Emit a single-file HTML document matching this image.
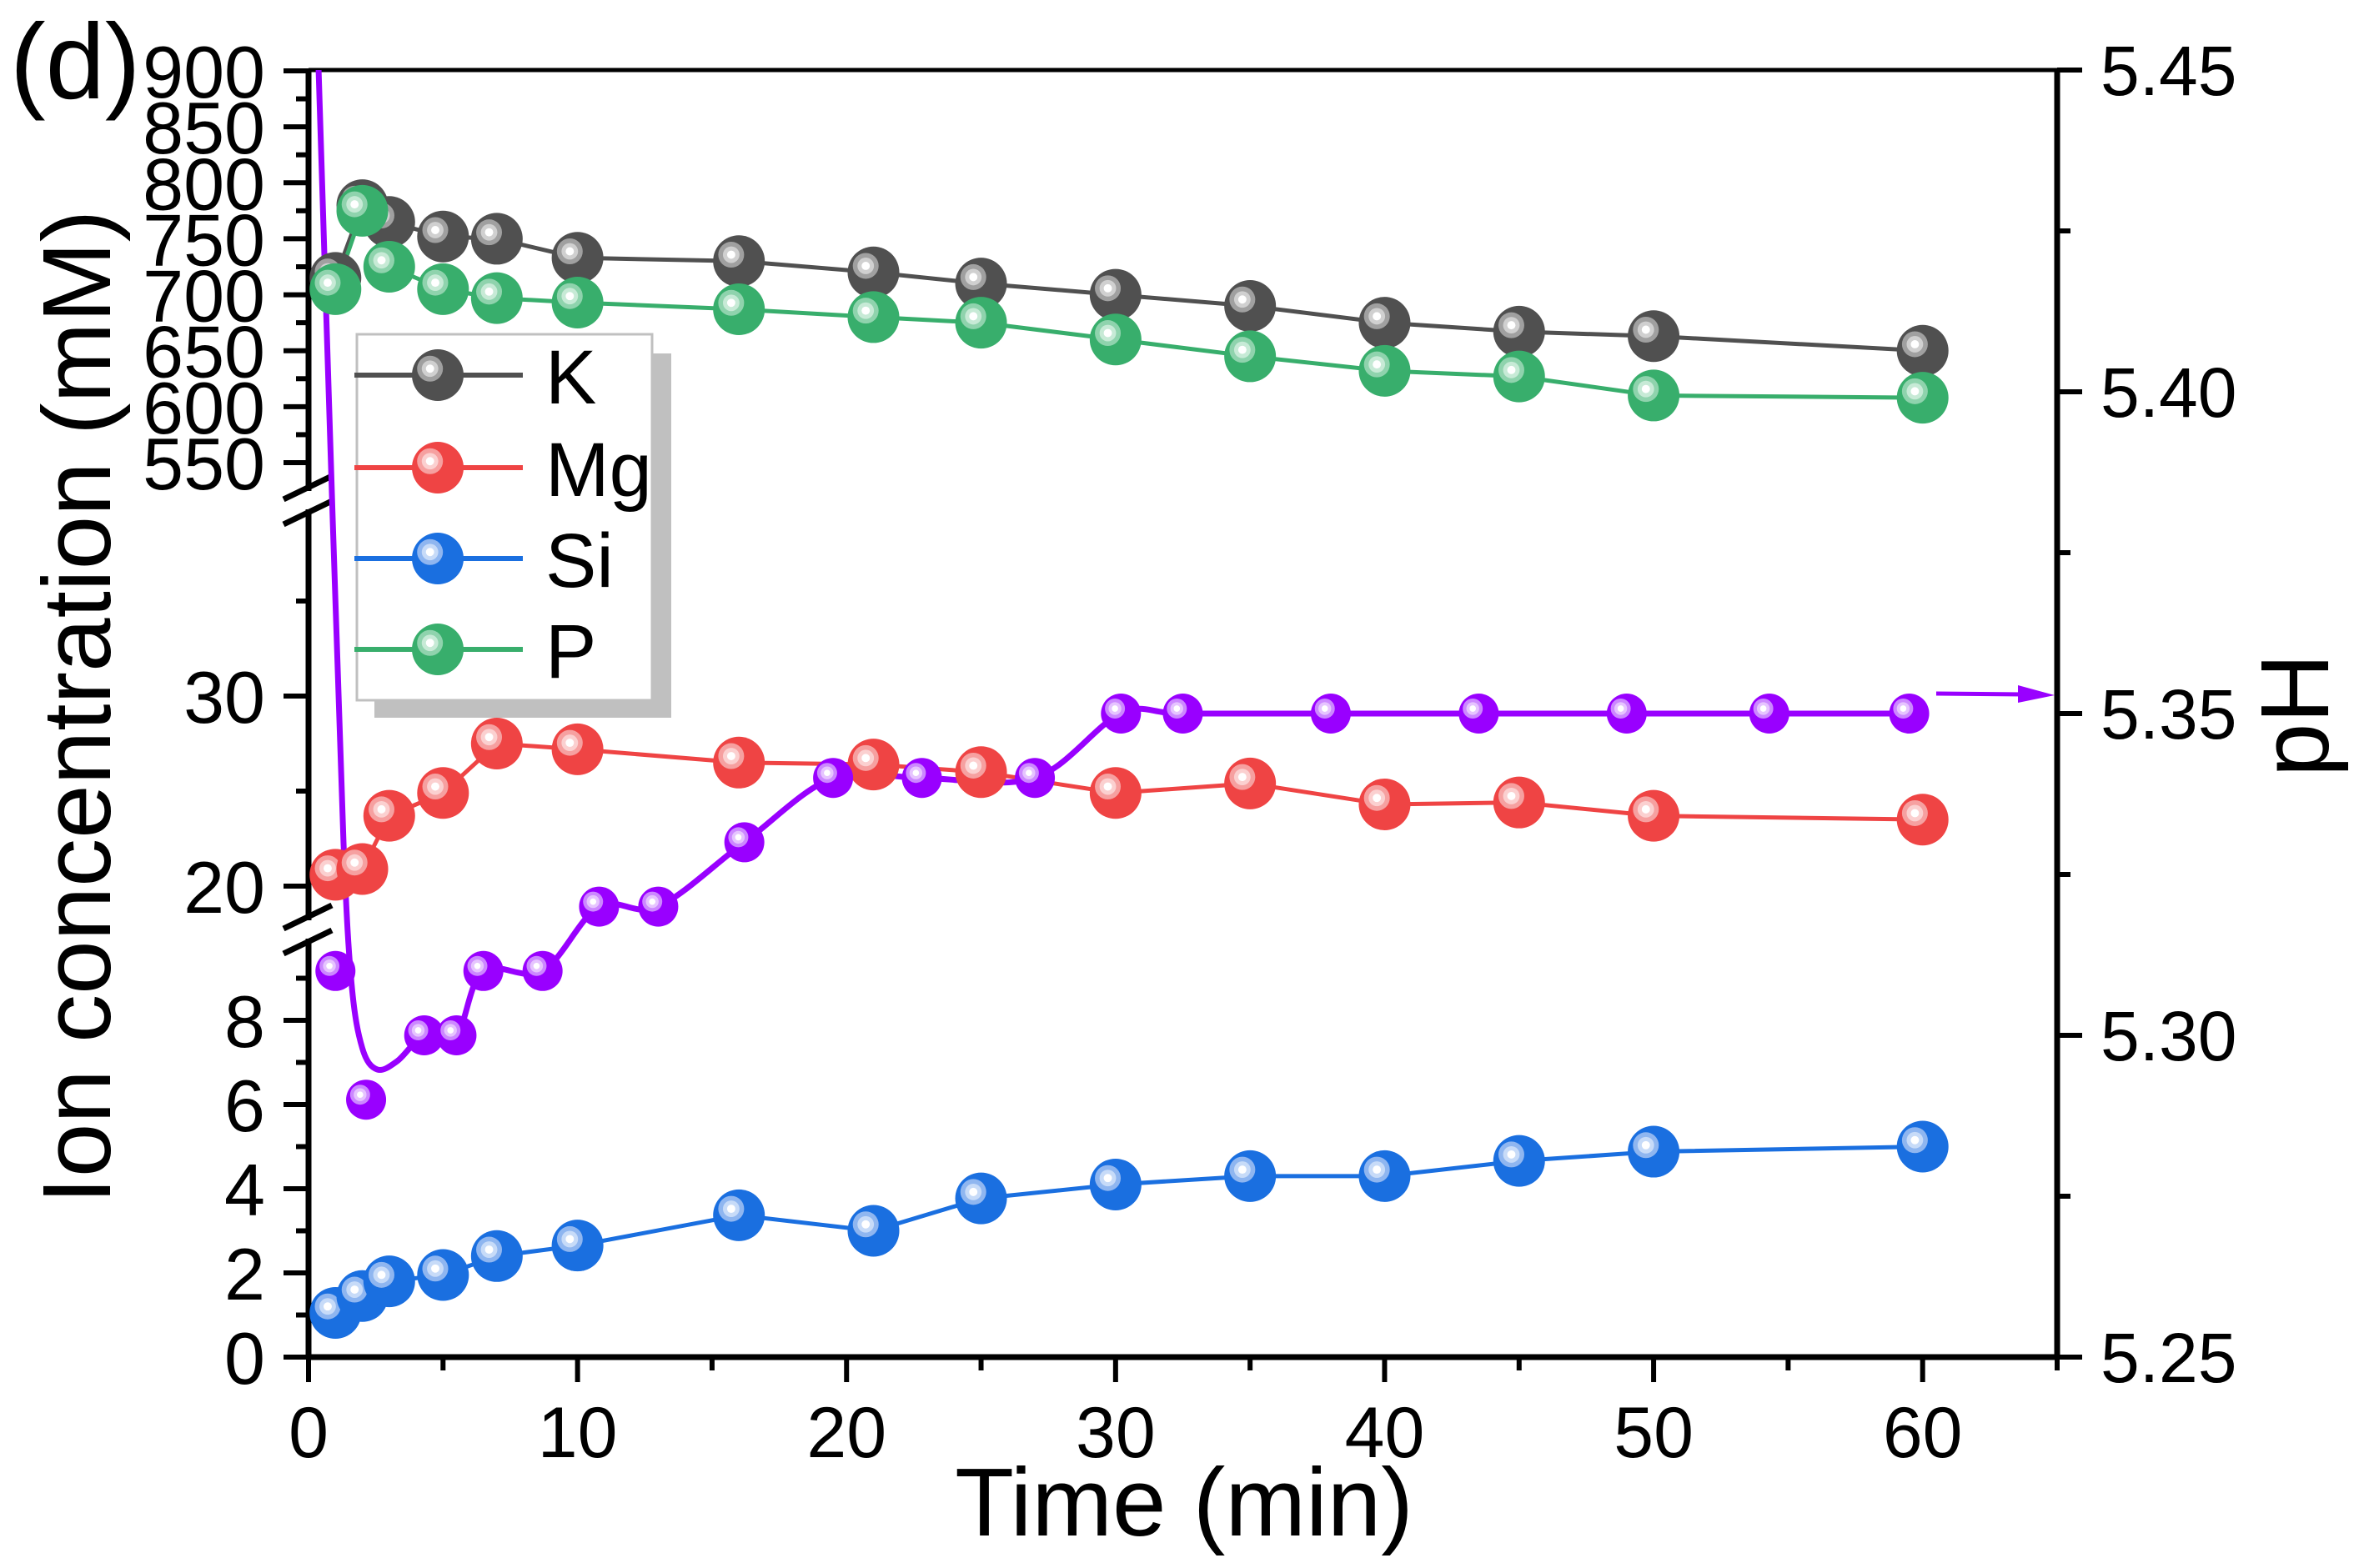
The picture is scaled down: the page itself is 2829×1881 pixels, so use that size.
<!DOCTYPE html>
<html><head><meta charset="utf-8"><style>
html,body{margin:0;padding:0;background:#fff;}
svg{display:block;font-family:"Liberation Sans",Arial,sans-serif;}
</style></head><body>
<svg id="chart" width="2829" height="1881" viewBox="0 0 2829 1881" xmlns="http://www.w3.org/2000/svg">
<defs>
<clipPath id="plotclip"><rect x="370" y="84" width="2097" height="1544"/></clipPath>
</defs>
<g id="axes"></g>
<g id="series" clip-path="url(#plotclip)"></g>
<g id="legend"></g>
<text x="12" y="118" font-size="128">(d)</text>
<text x="1420" y="1842" font-size="116" text-anchor="middle">Time (min)</text>
<text transform="translate(132,848) rotate(-90)" font-size="116" text-anchor="middle">Ion concentration (mM)</text>
<text transform="translate(2792,858) rotate(-90)" font-size="116" text-anchor="middle">pH</text>
</svg>
<script>
const times = [1,2,3,5,7,10,16,21,25,30,35,40,45,50,60];
const kVals = [715,780,765,752,750,733,730,720,710,700,690,675,667,663,650];
const pVals = [705,775,725,705,697,693,687,680,675,660,645,632,627,610,608];
const mgVals = [20.6,20.9,23.7,24.9,27.5,27.2,26.5,26.4,26.0,24.9,25.4,24.3,24.4,23.7,23.5];
const siVals = [1.05,1.45,1.8,1.95,2.4,2.65,3.37,3.0,3.77,4.1,4.3,4.3,4.66,4.88,5.0];
const phTimes = [1,2.14,4.3,5.5,6.5,8.7,10.8,13,16.2,19.5,22.8,27,30.2,32.5,38,43.5,49,54.3,59.5];
const phVals = [5.31,5.29,5.30,5.30,5.31,5.31,5.32,5.32,5.33,5.34,5.34,5.34,5.35,5.35,5.35,5.35,5.35,5.35,5.35];
const phFitTimes = [0.3,0.9,1.3,1.6,2.0,2.55,3.3,4.3,5.5,6.5,8.7,10.8,13,16.2,19.5,22.8,27,30.2,32.5,38,43.5,49,54.3,59.5];
const phFitVals = [5.46,5.38,5.33,5.308,5.298,5.2947,5.296,5.30,5.30,5.31,5.31,5.32,5.32,5.33,5.34,5.34,5.34,5.35,5.35,5.35,5.35,5.35,5.35,5.35];
const xTicks = [0,10,20,30,40,50,60];
const upperTicks = [550,600,650,700,750,800,850,900];
const midTicks = [20,30];
const lowerTicks = [0,2,4,6,8];
const phTicks = [5.25,5.30,5.35,5.40,5.45];

const NS="http://www.w3.org/2000/svg";
const L=370,R=2467,T=84,B=1628;
const X=t=>L+(t-0)*(R-L)/65;
const yUp=v=>85+(900-v)*(470/350);
const yMid=v=>835-(v-30)*22.8;
const yLow=v=>1628-v*50.5;
const yPH=v=>B-(v-5.25)*(B-T)/0.2;
function mk(tag,attrs,parent){const e=document.createElementNS(NS,tag);for(const k in attrs)e.setAttribute(k,attrs[k]);parent.appendChild(e);return e;}
const axes=document.getElementById('axes'),ser=document.getElementById('series'),leg=document.getElementById('legend');
const colors={K:'#505050',Mg:'#ef4444',Si:'#1a6fe0',P:'#38ae6c',pH:'#9900ff'};
const lights={K:'#a0a0a0',Mg:'#f6a0a0',Si:'#8fb6f0',P:'#8fd3ad',pH:'#cc88ff'};
const lights2={K:'#d0d0d0',Mg:'#fbd0d0',Si:'#c7dbf8',P:'#c7ead6',pH:'#e6c4ff'};
function ball(cx,cy,r,key,parent,name){
  const g=mk('g',{},parent);
  
  
  mk('ellipse',{cx:cx,cy:cy,rx:r,ry:r,fill:colors[key]},g);
  const hx=cx-r*0.3,hy=cy-r*0.25;
  mk('circle',{cx:hx,cy:hy,r:r*0.5,fill:lights[key]},g);
  mk('circle',{cx:hx,cy:hy,r:r*0.32,fill:lights2[key]},g);
  mk('circle',{cx:hx,cy:hy,r:r*0.16,fill:'#fff'},g);
}
let e;
e=mk('line',{x1:L,y1:T,x2:R,y2:T,stroke:'#000','stroke-width':5},axes);

e=mk('line',{x1:L,y1:B,x2:R,y2:B,stroke:'#000','stroke-width':7},axes);

e=mk('line',{x1:R,y1:T,x2:R,y2:B+3,stroke:'#000','stroke-width':7},axes);

[[T,598],[602,1114],[1118,B+3]].forEach(s=>{
  const l=mk('line',{x1:L,y1:s[0],x2:L,y2:s[1],stroke:'#000','stroke-width':7},axes);
  
});
[585,1100].forEach(y0=>{
  mk('rect',{x:355,y:y0+4,width:30,height:22,fill:'#fff'},axes);
  [0,30].forEach(d=>{
    const l=mk('line',{x1:340,y1:y0+d+14,x2:398,y2:y0+d-14,stroke:'#000','stroke-width':7},axes);
    
  });
});
function tick(x1,y1,x2,y2){mk('line',{x1:x1,y1:y1,x2:x2,y2:y2,stroke:'#000','stroke-width':6},axes);}
function label(x,y,txt,anchor,fs,name){const t=mk('text',{x:x,y:y,'text-anchor':anchor,'font-size':fs},axes);t.textContent=txt;}
xTicks.forEach(t=>{tick(X(t),B,X(t),B+30);label(X(t),B+120,String(t),'middle',86,'x-tick-label');});
for(let t=5;t<=65;t+=10)tick(X(t),B,X(t),B+16);
upperTicks.forEach(v=>{tick(L-30,yUp(v),L,yUp(v));label(318,yUp(v)+32,String(v),'end',88,'y-tick-label');});
for(let v=575;v<900;v+=50)tick(L-15,yUp(v),L,yUp(v));
midTicks.forEach(v=>{tick(L-30,yMid(v),L,yMid(v));label(318,yMid(v)+32,String(v),'end',88,'y-tick-label');});
[25,35].forEach(v=>tick(L-15,yMid(v),L,yMid(v)));
lowerTicks.forEach(v=>{tick(L-30,yLow(v),L,yLow(v));label(318,yLow(v)+32,String(v),'end',88,'y-tick-label');});
[1,3,5,7,9].forEach(v=>tick(L-15,yLow(v),L,yLow(v)));
phTicks.forEach(v=>{tick(R,yPH(v),R+30,yPH(v));label(R+52,yPH(v)+30,v.toFixed(2),'start',84,'y2-tick-label');});
for(let v=5.275;v<5.45;v+=0.05)tick(R,yPH(v),R+16,yPH(v));
function poly(xs,ys,yf,key,name){
  const pts=xs.map((t,i)=>X(t)+','+yf(ys[i])).join(' ');
  const p=mk('polyline',{points:pts,fill:'none',stroke:colors[key],'stroke-width':5,'stroke-linejoin':'round'},ser);
  
}
poly(times,kVals,yUp,'K','k-line');
poly(times,pVals,yUp,'P','p-line');
poly(times,mgVals,yMid,'Mg','mg-line');
poly(times,siVals,yLow,'Si','si-line');
(function(){
  const P=phFitTimes.map((t,i)=>[X(t),yPH(phFitVals[i])]);
  let d='M'+P[0][0]+','+P[0][1];
  for(let i=0;i<P.length-1;i++){
    const p0=P[Math.max(i-1,0)],p1=P[i],p2=P[i+1],p3=P[Math.min(i+2,P.length-1)];
    const c1=[p1[0]+(p2[0]-p0[0])/6,p1[1]+(p2[1]-p0[1])/6];
    const c2=[p2[0]-(p3[0]-p1[0])/6,p2[1]-(p3[1]-p1[1])/6];
    d+=' C'+c1[0]+','+c1[1]+' '+c2[0]+','+c2[1]+' '+p2[0]+','+p2[1];
  }
  const p=mk('path',{d:d,fill:'none',stroke:colors.pH,'stroke-width':7,'stroke-linejoin':'round'},ser);
  
})();
times.forEach((t,i)=>ball(X(t),yUp(kVals[i]),31,'K',ser,'k-point'));
times.forEach((t,i)=>ball(X(t),yUp(pVals[i]),31,'P',ser,'p-point'));
times.forEach((t,i)=>ball(X(t),yMid(mgVals[i]),31,'Mg',ser,'mg-point'));
times.forEach((t,i)=>ball(X(t),yLow(siVals[i]),31,'Si',ser,'si-point'));
phTimes.forEach((t,i)=>ball(X(t),yPH(phVals[i]),24,'pH',ser,'ph-point'));
e=mk('g',{},axes);

mk('line',{x1:2322,y1:832,x2:2430,y2:833,stroke:colors.pH,'stroke-width':5},e);
mk('path',{d:'M2420,822 L2464,834 L2420,843 Z',fill:colors.pH},e);
mk('rect',{x:449,y:424,width:356,height:437,fill:'#c0c0c0'},leg);
const box=mk('rect',{x:428,y:401,width:354,height:439,fill:'#fff',stroke:'#c0c0c0','stroke-width':3},leg);

const legKeys=['K','Mg','Si','P'];const legY=[450,561,670,779];
legKeys.forEach((k,i)=>{
  const g=mk('g',{},leg);
  
  
  mk('line',{x1:425,y1:legY[i],x2:627,y2:legY[i],stroke:colors[k],'stroke-width':6},g);
  ball(525,legY[i],31,k,g,'legend-marker');
  const t=mk('text',{x:654,y:legY[i]+34,'font-size':92},g);t.textContent=k;
});
</script>
</body></html>
